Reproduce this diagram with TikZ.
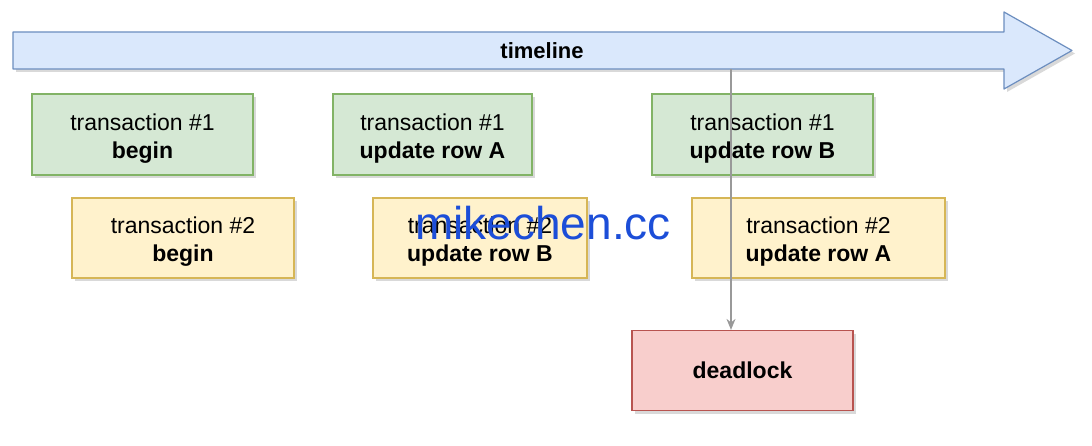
\documentclass[tikz,border=0pt]{standalone}
\usepackage{fontspec}
\setmainfont{Liberation Sans}
\usetikzlibrary{shadows,arrows.meta}

\definecolor{tlfill}{HTML}{DAE8FC}
\definecolor{tldraw}{HTML}{6C8EBF}
\definecolor{onefill}{HTML}{D5E8D4}
\definecolor{onedraw}{HTML}{82B366}
\definecolor{twofill}{HTML}{FFF2CC}
\definecolor{twodraw}{HTML}{D6B656}
\definecolor{lockfill}{HTML}{F8CECC}
\definecolor{lockdraw}{HTML}{B85450}
\definecolor{markblue}{RGB}{28,78,216}

\newcommand{\stepstrut}{\rule{0pt}{24pt}}

\tikzset{
  shade/.style={drop shadow={shadow xshift=3pt, shadow yshift=-3pt, opacity=0.25, fill=black!60}},
  txbox/.style={draw, line width=1.2pt, shade, align=center, inner sep=0pt,
    font=\fontsize{23}{28}\selectfont},
  txone/.style={txbox, fill=onefill, draw=onedraw, minimum height=81pt},
  txtwo/.style={txbox, fill=twofill, draw=twodraw, minimum height=80pt},
  lockbox/.style={txbox, fill=lockfill, draw=lockdraw, minimum height=80pt},
}

\begin{document}
\begin{tikzpicture}[x=1pt, y=-1pt]
	\useasboundingbox (0, 0) rectangle (1092, 446);
	% Timeline arrow:
	\draw[fill=tlfill, draw=tldraw, line width=1.2pt, line join=round, shade]
		(13, 32) -- (1004, 32) -- (1004, 12) -- (1072, 50.5) -- (1004, 89) -- (1004, 69) -- (13, 69) -- cycle;
	\node[font=\fontsize{22}{26}\selectfont\bfseries] (timeline) at (542, 50.5) {timeline};
	\coordinate (drop) at (731, 69);
	% Transaction steps:
	\node[txone, minimum width=221pt] (b1) at (142.5, 134.5) {\stepstrut transaction \#1\\\textbf{begin}};
	\node[txtwo, minimum width=222pt] (b2) at (183, 238) {\stepstrut transaction \#2\\\textbf{begin}};
	\node[txone, minimum width=199pt] (u1a) at (432.5, 134.5) {\stepstrut transaction \#1\\\textbf{update row A}};
	\node[txtwo, minimum width=214pt] (u2b) at (480, 238) {\stepstrut transaction \#2\\\textbf{update row B}};
	\node[txone, minimum width=221pt] (u1b) at (762.5, 134.5) {\stepstrut transaction \#1\\\textbf{update row B}};
	\node[txtwo, minimum width=253pt] (u2a) at (818.5, 238) {\stepstrut transaction \#2\\\textbf{update row A}};
	\node[lockbox, minimum width=221pt] (lock) at (742.5, 370.5) {\textbf{deadlock}};
	% Connector:
	\draw[line width=1.5pt, color=black!40, -{Stealth[length=11pt, width=9pt]}] (drop) -- (drop |- lock.north);
	% Watermark:
	\node[anchor=base west, inner sep=0pt, text=markblue, font=\fontsize{46}{50}\selectfont] (mark) at (415, 240) {mikechen.cc};
\end{tikzpicture}
\end{document}
